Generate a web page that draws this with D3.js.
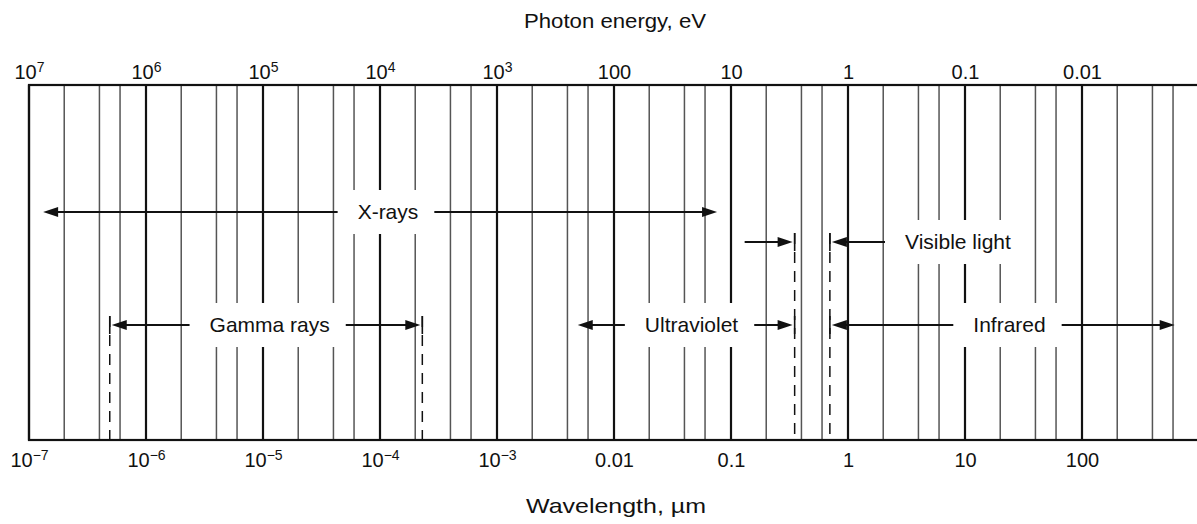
<!DOCTYPE html>
<html>
<head>
<meta charset="utf-8">
<script src="https://cdn.jsdelivr.net/npm/d3@7"></script>
<style>
  body { margin: 0; background: #fff; }
  text { font-family: "Liberation Sans", Arial, Helvetica, sans-serif; fill: #111; }
</style>
</head>
<body>
<div id="chart-container"></div>
<script>
const width = 1197;
const height = 524;
const margin = { top: 85, left: 29, bottom: 440 };

// wavelength grid (µm): a heavy line at each decade, light lines at 2, 4, 6
const decades = [1e-7, 1e-6, 1e-5, 1e-4, 1e-3, 1e-2, 1e-1, 1, 10, 100, 1000];
const minorSteps = [2, 4, 6];

// tick labels: bottom = wavelength (µm), top = photon energy (eV)
const tickValues = [1e-7, 1e-6, 1e-5, 1e-4, 1e-3, 1e-2, 1e-1, 1, 10, 100];
const wavelengthBase = ["10", "10", "10", "10", "10", "0.01", "0.1", "1", "10", "100"];
const wavelengthExp = ["\u22127", "\u22126", "\u22125", "\u22124", "\u22123", "", "", "", "", ""];
const energyBase = ["10", "10", "10", "10", "10", "100", "10", "1", "0.1", "0.01"];
const energyExp = ["7", "6", "5", "4", "3", "", "", "", "", ""];

// spectral bands (wavelength in µm)
const bandNames = ["X-rays", "Visible light", "Gamma rays", "Ultraviolet", "Infrared"];
const bandRows = ["upper", "middle", "lower", "lower", "lower"];
const bandStart = [1.32e-7, 0.35, 4.9e-7, 4.9e-3, 0.7];
const bandEnd = [0.076, 0.7, 2.3e-4, 0.35, 620];
const bandLabelAt = [1.17e-4, 8.7, 1.14e-5, 0.046, 24];
const bandInward = [false, true, false, false, false];
// boundaries marked with a dashed line
const boundaries = [4.9e-7, 2.3e-4, 0.35, 0.7];

const svg = d3.select("#chart-container").append("svg")
  .attr("width", width)
  .attr("height", height);

const x = d3.scaleLog()
  .domain([1e-7, 1e3])
  .range([margin.left, margin.left + 1170]);

const y = d3.scaleOrdinal()
  .domain(["upper", "middle", "lower"])
  .range([212, 242, 325]);

const gGrid = svg.append("g");
const gBoxes = svg.append("g");
const gMarks = svg.append("g");
const gText = svg.append("g");

//Grid lines
const minorLines = decades.slice(0, -1).flatMap(d => minorSteps.map(m => m * d));

gGrid.selectAll(".minor")
  .data(minorLines)
  .enter().append("line")
  .attr("class", "minor")
  .attr("x1", d => x(d)).attr("x2", d => x(d))
  .attr("y1", margin.top).attr("y2", margin.bottom)
  .attr("stroke", "#555")
  .attr("stroke-width", 1.5);

gGrid.selectAll(".major")
  .data(decades)
  .enter().append("line")
  .attr("class", "major")
  .attr("x1", d => x(d)).attr("x2", d => x(d))
  .attr("y1", margin.top).attr("y2", margin.bottom)
  .attr("stroke", "#111")
  .attr("stroke-width", 2.2);

gGrid.append("rect")
  .attr("x", x(1e-7))
  .attr("y", margin.top)
  .attr("width", x(1e3) - x(1e-7))
  .attr("height", margin.bottom - margin.top)
  .attr("fill", "none")
  .attr("stroke", "#111")
  .attr("stroke-width", 2.2);

//Axes
let superscript = (bases, exps) => function (d, i) {
  const t = d3.select(this).text("");
  t.append("tspan").text(bases[i]);
  if (exps[i]) {
    t.append("tspan")
      .attr("dy", "-0.5em")
      .attr("font-size", "14px")
      .text(exps[i]);
  }
};

const bottomAxis = svg.append("g")
  .attr("transform", `translate(0,${margin.bottom})`)
  .call(d3.axisBottom(x).tickValues(tickValues).tickSize(0).tickPadding(0));
bottomAxis.select(".domain").remove();
bottomAxis.selectAll(".tick text")
  .attr("y", 27).attr("dy", 0)
  .attr("font-size", "20px")
  .attr("font-family", null)
  .each(superscript(wavelengthBase, wavelengthExp));

const topAxis = svg.append("g")
  .attr("transform", `translate(0,${margin.top})`)
  .call(d3.axisTop(x).tickValues(tickValues).tickSize(0).tickPadding(0));
topAxis.select(".domain").remove();
topAxis.selectAll(".tick text")
  .attr("y", -6).attr("dy", 0)
  .attr("font-size", "20px")
  .attr("font-family", null)
  .each(superscript(energyBase, energyExp));

svg.append("text")
  .attr("x", 615).attr("y", 28)
  .attr("text-anchor", "middle")
  .attr("font-size", "21px")
  .attr("textLength", 182)
  .attr("lengthAdjust", "spacingAndGlyphs")
  .text("Photon energy, eV");

svg.append("text")
  .attr("x", 616).attr("y", 513)
  .attr("text-anchor", "middle")
  .attr("font-size", "21px")
  .attr("textLength", 180)
  .attr("lengthAdjust", "spacingAndGlyphs")
  .text("Wavelength, \u00b5m");

//Dashed boundaries
boundaries.forEach(b => {
  const rowsHere = bandNames.map((n, i) => i)
    .filter(i => bandStart[i] === b || bandEnd[i] === b)
    .map(i => y(bandRows[i]));
  gMarks.append("line")
    .attr("x1", x(b)).attr("x2", x(b))
    .attr("y1", d3.min(rowsHere) - 9).attr("y2", margin.bottom)
    .attr("stroke", "#111")
    .attr("stroke-width", 1.5)
    .attr("stroke-dasharray", "11,8");
});

let isBoundary = v => boundaries.includes(v);

let arrow = (x1, x2, yy) => {
  // line from x1 to x2 with a filled head at x2
  const dir = x2 > x1 ? 1 : -1;
  gMarks.append("line")
    .attr("x1", x1).attr("x2", x2 - dir * 6)
    .attr("y1", yy).attr("y2", yy)
    .attr("stroke", "#111")
    .attr("stroke-width", 2.2);
  gMarks.append("path")
    .attr("d", `M${x2},${yy}L${x2 - dir * 15},${yy - 5}L${x2 - dir * 15},${yy + 5}Z`)
    .attr("fill", "#111");
};

let bar = (xx, yy) => {
  gMarks.append("line")
    .attr("x1", xx).attr("x2", xx)
    .attr("y1", yy - 9).attr("y2", yy + 9)
    .attr("stroke", "#111")
    .attr("stroke-width", 1.6);
};

//Bands
bandNames.forEach((name, i) => {
  const yy = y(bandRows[i]);
  const label = gText.append("text")
    .attr("x", x(bandLabelAt[i]))
    .attr("y", yy)
    .attr("dy", "0.35em")
    .attr("text-anchor", "middle")
    .attr("font-size", "21px")
    .text(name);
  const w = label.node().getComputedTextLength();
  const left = x(bandLabelAt[i]) - w / 2;
  const right = x(bandLabelAt[i]) + w / 2;

  gBoxes.append("rect")
    .attr("x", left - 16)
    .attr("y", yy - 22)
    .attr("width", w + 32)
    .attr("height", 44)
    .attr("fill", "#fff");

  const xs = x(bandStart[i]);
  const xe = x(bandEnd[i]);
  const inset = v => isBoundary(v) ? 2 : 0;

  if (bandInward[i]) {
    arrow(xs - 50, xs - inset(bandStart[i]), yy);
    arrow(left - 20, xe + inset(bandEnd[i]), yy);
  } else {
    arrow(left - 20, xs + inset(bandStart[i]), yy);
    arrow(right + 16, xe - inset(bandEnd[i]), yy);
  }
  if (isBoundary(bandStart[i])) bar(xs, yy);
  if (isBoundary(bandEnd[i])) bar(xe, yy);
});
</script>
</body>
</html>
